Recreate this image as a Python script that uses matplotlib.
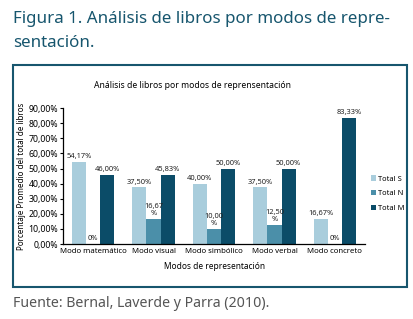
import matplotlib
matplotlib.use("Agg")
import matplotlib.pyplot as plt
import numpy as np
from matplotlib.patches import Rectangle

# data
modos = ["Modo matemático", "Modo visual", "Modo simbólico",
         "Modo verbal", "Modo concreto"]
total_s = [54.17, 37.50, 40.00, 37.50, 16.67]
total_n = [0.0, 16.67, 10.00, 12.50, 0.0]
total_m = [46.00, 45.83, 50.00, 50.00, 83.33]
series_names = ["Total S", "Total N", "Total M"]
yticks = [0, 10, 20, 30, 40, 50, 60, 70, 80, 90]

COLOURS = ["#a9cddc", "#4b8fa9", "#0b4c68"]
TEAL = "#17566e"
FONT = "Noto Sans"


def pct_label(v, wrap=False):
    if v == 0:
        return "0%"
    s = f"{v:.2f}".replace(".", ",")
    return s + ("\n%" if wrap else "%")


fig = plt.figure(figsize=(4.14, 3.19), dpi=100)
fig.patch.set_facecolor("white")

# outer frame around the chart
fig.patches.append(Rectangle((0.032, 0.100), 0.951, 0.696,
                             transform=fig.transFigure, fill=False,
                             edgecolor=TEAL, linewidth=1.5, zorder=5))

fig.text(0.031, 0.942, "Figura 1. Análisis de libros por modos de repre-",
         fontsize=12.2, color=TEAL, family=FONT, va="center")
fig.text(0.031, 0.866, "sentación.", fontsize=12.2, color=TEAL,
         family=FONT, va="center")
fig.text(0.031, 0.050, "Fuente: Bernal, Laverde y Parra (2010).",
         fontsize=10.2, color="#555555", family=FONT, va="center")

ax = fig.add_axes([0.152, 0.235, 0.730, 0.426])
x = np.arange(len(modos))
width = 0.235
for i, (vals, name) in enumerate(zip([total_s, total_n, total_m], series_names)):
    offset = (i - 1) * width
    bars = ax.bar(x + offset, vals, width, color=COLOURS[i], label=name)
    for bar, v in zip(bars, vals):
        wrap = (i == 1 and v > 0)
        ax.text(bar.get_x() + bar.get_width() / 2, bar.get_height() + 1.2,
                pct_label(v, wrap), ha="center", va="bottom",
                fontsize=5.4, family=FONT, color="#222222",
                linespacing=1.0)

ax.set_ylim(0, 90)
ax.set_xlim(-0.5, len(modos) - 0.5)
ax.set_yticks(yticks)
ax.set_yticklabels([f"{t},00%" for t in yticks], fontsize=6.3, family=FONT)
ax.set_xticks(x)
ax.set_xticklabels(modos, fontsize=5.6, family=FONT)
ax.tick_params(axis="y", length=2.5, width=0.8, pad=1)
ax.tick_params(axis="x", length=0, pad=3)
for side in ("top", "right"):
    ax.spines[side].set_visible(False)
ax.spines["left"].set_linewidth(0.9)
ax.spines["bottom"].set_linewidth(0.9)

ax.set_xlabel("Modos de representación", fontsize=6.0, family=FONT,
              labelpad=5)
fig.text(0.053, 0.448, "Porcentaje Promedio del total de libros",
         rotation=90, fontsize=5.8, family=FONT, ha="center", va="center")
fig.text(0.464, 0.733, "Análisis de libros por modos de reprensentación",
         fontsize=6.2, family=FONT, ha="center", va="center")

ax.legend(loc="center left", bbox_to_anchor=(1.005, 0.37), frameon=False,
          prop={"family": FONT, "size": 5.4}, handlelength=0.7,
          handleheight=0.7, handletextpad=0.25, labelspacing=1.0,
          borderaxespad=0.2)

fig.savefig("out.png", dpi=100)
